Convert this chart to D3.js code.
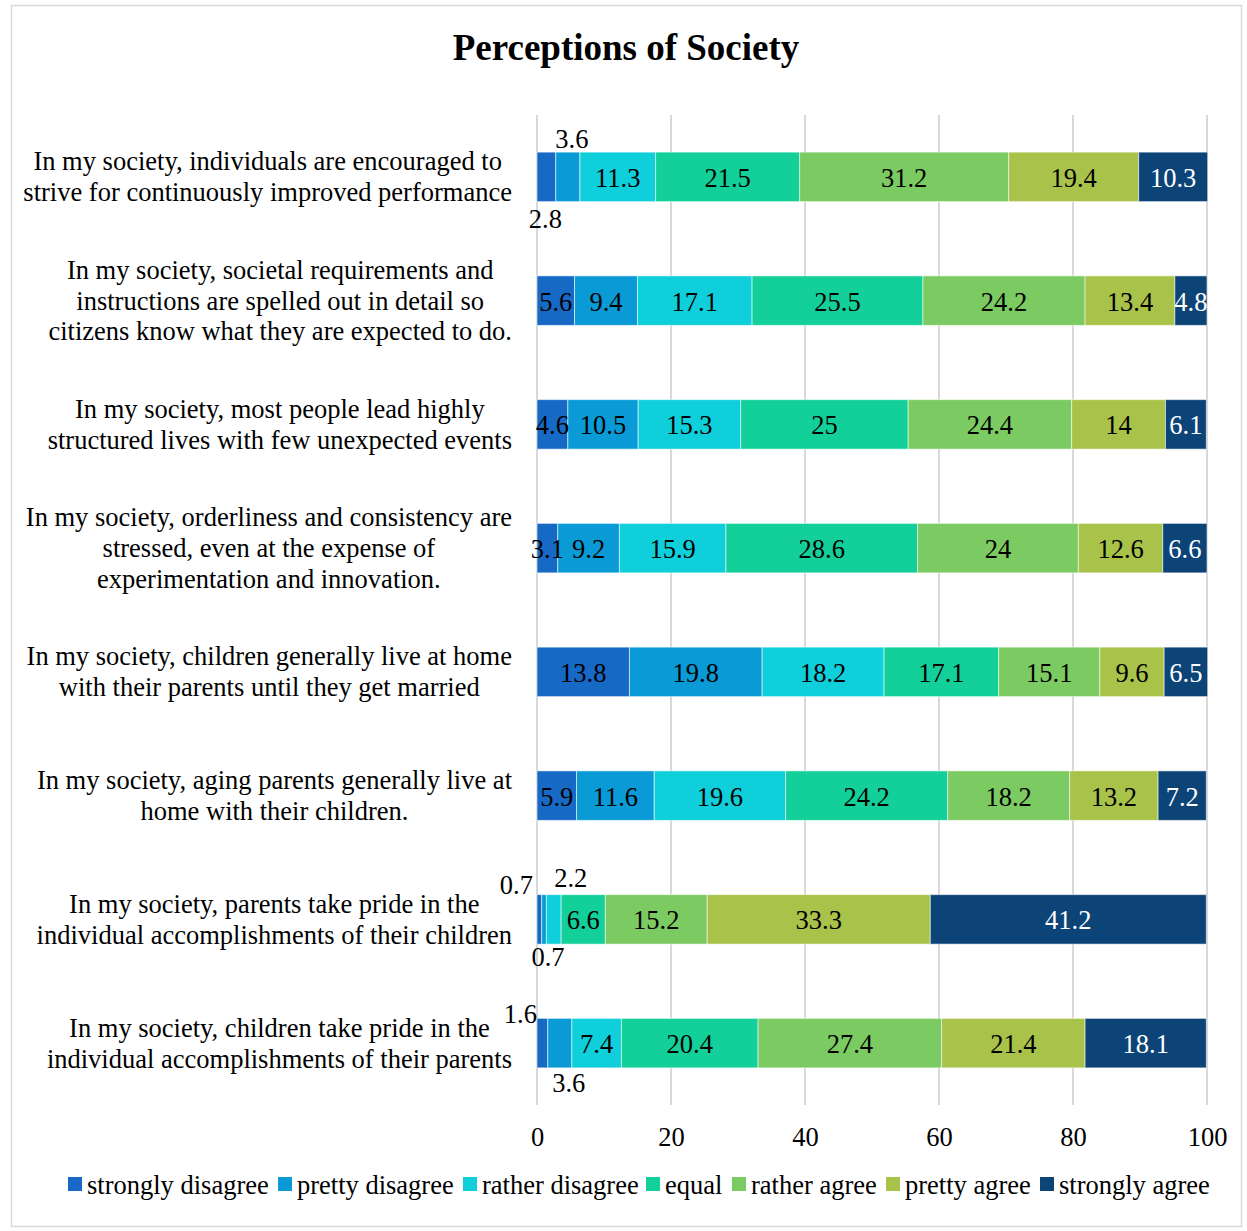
<!DOCTYPE html>
<html>
<head>
<meta charset="utf-8">
<script src="https://cdn.jsdelivr.net/npm/d3@7"></script>
<style>
  html, body { margin: 0; padding: 0; background: #fff; }
  svg { display: block; font-family: "Liberation Serif", "Times New Roman", serif; }
</style>
</head>
<body>
<svg id="chart" width="1247" height="1231"></svg>
<script>
// Survey statements (each entry is the wrapped lines of one label)
const categories = [
  ["In my society, individuals are encouraged to", "strive for continuously improved performance"],
  ["In my society, societal requirements and", "instructions are spelled out in detail so", "citizens know what they are expected to do."],
  ["In my society, most people lead highly", "structured lives with few unexpected events"],
  ["In my society, orderliness and consistency are", "stressed, even at the expense of", "experimentation and innovation."],
  ["In my society, children generally live at home", "with their parents until they get married"],
  ["In my society, aging parents generally live at", "home with their children."],
  ["In my society, parents take pride in the", "individual accomplishments of their children"],
  ["In my society, children take pride in the", "individual accomplishments of their parents"]
];

const seriesNames = ["strongly disagree", "pretty disagree", "rather disagree", "equal", "rather agree", "pretty agree", "strongly agree"];

// Percentages per statement, one array per answer level
const stronglyDisagree = [2.8, 5.6, 4.6, 3.1, 13.8, 5.9, 0.7, 1.6];
const prettyDisagree   = [3.6, 9.4, 10.5, 9.2, 19.8, 11.6, 0.7, 3.6];
const ratherDisagree   = [11.3, 17.1, 15.3, 15.9, 18.2, 19.6, 2.2, 7.4];
const equal            = [21.5, 25.5, 25, 28.6, 17.1, 24.2, 6.6, 20.4];
const ratherAgree      = [31.2, 24.2, 24.4, 24, 15.1, 18.2, 15.2, 27.4];
const prettyAgree      = [19.4, 13.4, 14, 12.6, 9.6, 13.2, 33.3, 21.4];
const stronglyAgree    = [10.3, 4.8, 6.1, 6.6, 6.5, 7.2, 41.2, 18.1];

const xTicks = [0, 20, 40, 60, 80, 100];

const colors = ["#1769c6", "#0a9bd6", "#0ecfda", "#13d09a", "#7bca62", "#a8c24a", "#0c4478"];

// Values in segments too narrow to hold text are drawn outside the bar:
// [row, series, side, dx from segment centre, dy from bar edge]
const outsideLabels = [
  [0, 0, "below", -1, 16], [0, 1, "above", 4, -14],
  [6, 0, "above", -23, -11], [6, 1, "below", 4, 12], [6, 2, "above", 17, -18],
  [7, 0, "above", -22, -5], [7, 1, "below", 9, 14]
];

const allSeries = [stronglyDisagree, prettyDisagree, ratherDisagree, equal, ratherAgree, prettyAgree, stronglyAgree];

const FS = 26.5;
const svg = d3.select("#chart");

// chart frame
svg.append("rect")
  .attr("x", 11.5).attr("y", 5.5).attr("width", 1230).attr("height", 1221)
  .attr("fill", "#fff").attr("stroke", "#d9d9d9").attr("stroke-width", 1.5);

svg.append("text")
  .attr("x", 626).attr("y", 60)
  .attr("text-anchor", "middle")
  .attr("font-size", 37).attr("font-weight", "bold")
  .text("Perceptions of Society");

const x = d3.scaleLinear().domain([0, 100]).range([537, 1207]);
const y = d3.scaleBand().domain(d3.range(categories.length)).range([115, 1105])
  .paddingInner(0.6).paddingOuter(0.3);

// vertical gridlines
svg.append("g").selectAll("line").data(xTicks).join("line")
  .attr("x1", d => x(d)).attr("x2", d => x(d))
  .attr("y1", 115).attr("y2", 1105)
  .attr("stroke", "#d9d9d9").attr("stroke-width", 2);

// x axis tick labels
const xAxis = d3.axisBottom(x).tickValues(xTicks).tickSize(0).tickPadding(0);
const gx = svg.append("g").attr("transform", "translate(0,1105)").call(xAxis);
gx.select(".domain").remove();
gx.selectAll("text")
  .attr("font-family", "\"Liberation Serif\", \"Times New Roman\", serif")
  .attr("font-size", FS).attr("fill", "#000")
  .attr("dy", null).attr("y", 41);

// stacked segments
const stackData = categories.map((c, i) => {
  const o = { row: i };
  seriesNames.forEach((s, j) => { o[s] = allSeries[j][i]; });
  return o;
});
const stacked = d3.stack().keys(seriesNames)(stackData);

const layers = svg.append("g").selectAll("g").data(stacked).join("g")
  .attr("fill", (d, j) => colors[j]);

layers.selectAll("rect").data(d => d).join("rect")
  .attr("x", d => x(d[0]))
  .attr("width", d => x(d[1]) - x(d[0]))
  .attr("y", d => y(d.data.row))
  .attr("height", y.bandwidth())
  .attr("stroke", "rgba(255,255,255,0.55)").attr("stroke-width", 1);

// value labels
const isOutside = (r, s) => outsideLabels.find(o => o[0] === r && o[1] === s);
const labelG = svg.append("g").attr("font-size", FS);
stacked.forEach((layer, j) => {
  layer.forEach((d, i) => {
    const cx = (x(d[0]) + x(d[1])) / 2;
    const out = isOutside(i, j);
    let px = cx, py = y(i) + y.bandwidth() / 2, fill = j === 6 ? "#fff" : "#000";
    if (out) {
      px = cx + out[3];
      py = (out[2] === "above" ? y(i) : y(i) + y.bandwidth()) + out[4];
      fill = "#000";
    }
    labelG.append("text")
      .attr("x", px).attr("y", py + 1)
      .attr("text-anchor", "middle")
      .attr("dominant-baseline", "central")
      .attr("fill", fill)
      .text(allSeries[j][i]);
  });
});

// category labels: centred block whose widest line ends at the right edge
const catG = svg.append("g").attr("font-size", FS).attr("fill", "#000");
const lineH = 30.8;
categories.forEach((lines, i) => {
  const g = catG.append("g");
  const texts = lines.map((ln, k) => g.append("text")
    .attr("y", y(i) + y.bandwidth() / 2 + (k - (lines.length - 1) / 2) * lineH)
    .attr("dominant-baseline", "central")
    .attr("text-anchor", "middle")
    .text(ln));
  const maxW = d3.max(texts, t => t.node().getComputedTextLength());
  texts.forEach(t => t.attr("x", 512 - maxW / 2));
});

// legend
const legendX = [68, 278, 463, 646, 732, 886, 1040];
const legend = svg.append("g").selectAll("g").data(seriesNames).join("g")
  .attr("transform", (d, j) => `translate(${legendX[j]},1177)`);
legend.append("rect").attr("width", 14).attr("height", 14).attr("fill", (d, j) => colors[j]);
legend.append("text").attr("x", 19).attr("y", 7.5)
  .attr("dominant-baseline", "central").attr("font-size", FS).text(d => d);
</script>
</body>
</html>
